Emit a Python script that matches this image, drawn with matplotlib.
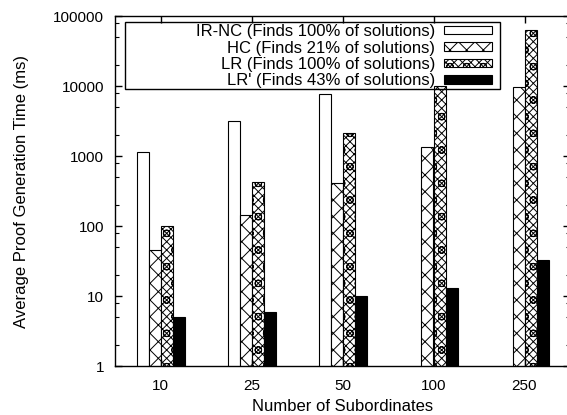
import numpy as np
import matplotlib
matplotlib.use('Agg')
import matplotlib.pyplot as plt
from matplotlib.ticker import LogLocator, NullFormatter
from matplotlib.patches import Rectangle

plt.rcParams['font.family'] = ['Liberation Sans', 'DejaVu Sans']
plt.rcParams['hatch.linewidth'] = 0.7

categories = ['10', '25', '50', '100', '250']
labels = ['IR-NC (Finds 100% of solutions)', 'HC (Finds 21% of solutions)',
          'LR (Finds 100% of solutions)', "LR' (Finds 43% of solutions)"]
ir_nc = [1140, 3200, 7700, np.nan, np.nan]
hc = [45, 144, 410, 1350, 9700]
lr = [100, 420, 2130, 10000, 63000]
lr_prime = [5, 5.9, 10, 13, 33]

series = [ir_nc, hc, lr, lr_prime]
faces = ['white', 'white', 'white', 'black']
hatches = [None, 'xx', 'xxxxo', None]

fig = plt.figure(figsize=(5.67, 4.15), dpi=100)
ax = fig.add_axes([115/567, 1 - 366/415, 455/567, 350/415])

x = np.arange(len(categories))
w = 12/91
for i, (vals, fc, h, lab) in enumerate(zip(series, faces, hatches, labels)):
    ax.bar(x + (i - 1.5)*w, vals, w, color=fc, hatch=h,
           edgecolor='black', linewidth=0.8, label=lab)

ax.set_yscale('log')
ax.set_ylim(1, 100000)
ax.set_xlim(-0.5, 4.5)
ax.set_xticks(x)
ax.set_xticklabels(categories)
ax.set_yticks([1, 10, 100, 1000, 10000, 100000])
ax.set_yticklabels(['1', '10', '100', '1000', '10000', '100000'])
ax.yaxis.set_minor_locator(LogLocator(base=10, subs=(2, 5, 8), numticks=20))
ax.yaxis.set_minor_formatter(NullFormatter())
ax.tick_params(axis='both', which='major', direction='in', length=5, width=1,
               top=True, right=True, labelsize=11, pad=8)
ax.tick_params(axis='y', which='minor', direction='in', length=3, width=0.8,
               right=True)
ax.tick_params(axis='x', which='major', pad=9)
for s in ax.spines.values():
    s.set_linewidth(1)

ax.set_xlabel('Number of Subordinates', fontsize=12, labelpad=5)
ax.set_ylabel('Average Proof Generation Time (ms)', fontsize=12, labelpad=17)

# legend frame drawn like gnuplot's key box
ax.add_patch(Rectangle((10/455, (366-89)/350), 375/455, 67/350,
                       transform=ax.transAxes, fill=False, edgecolor='black',
                       linewidth=1, zorder=5))
ax.legend(loc='upper right', bbox_to_anchor=(492/567, 1 - 24/415),
          bbox_transform=fig.transFigure, frameon=False, markerfirst=False,
          fontsize=12, borderpad=0, borderaxespad=0, labelspacing=0.09,
          handlelength=2.9, handleheight=0.4, handletextpad=0.5)

fig.savefig('out.png', dpi=100)
